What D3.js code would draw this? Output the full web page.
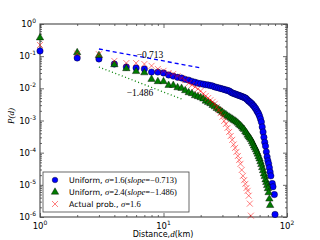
<!DOCTYPE html>
<html>
<head>
<meta charset="utf-8">
<style>
  body { margin: 0; background: #fff; }
  text { font-family: "DejaVu Sans", sans-serif; }
  .math { font-family: "Liberation Serif", serif; }
</style>
</head>
<body>
<svg id="chart" width="320" height="240"></svg>
<script src="https://cdn.jsdelivr.net/npm/d3@7"></script>
<script>
// P(d): [distance km, probability]
const uniform16 = [
  [1,0.145],[2,0.088],[3,0.082],[4,0.057],[5,0.046],[6,0.043],[7,0.040],[8,0.032],[9,0.032],[10,0.030],
  [11,0.026],[12,0.024],[13,0.022],[14,0.021],[15,0.019],[16,0.018],[17,0.0165],[18,0.0155],[19,0.0145],[20,0.014],
  [21,0.0135],[22,0.013],[23,0.0127],[24,0.0122],[25,0.0118],[26,0.0111],[27,0.0107],[28,0.0103],[29,0.0099],[30,0.0096],
  [31,0.0092],[32,0.0089],[33,0.0086],[34,0.0083],[35,0.0077],[36,0.0072],[37,0.0069],[38,0.0067],[39,0.0064],[40,0.0062],
  [41,0.006],[42,0.0058],[43,0.0056],[44,0.0054],[45,0.0052],[46,0.005],[47,0.0047],[48,0.0043],[49,0.004],[50,0.0038],
  [51,0.0035],[52,0.0033],[53,0.003],[54,0.0028],[55,0.0025],[56,0.0023],[57,0.002],[58,0.0018],[59,0.0016],[60,0.00136],
  [61,0.00112],[62,0.0009],[63,0.00063],[64,0.00044],[65,0.0003],[66,0.00021],[67,0.00016],[68,0.000106],[69,7.4e-5],[70,5.6e-5],
  [71,4.5e-5],[72,3.4e-5],[73,2.5e-5],[74,1.9e-5],[76,1.1e-5],[77,8.7e-6],[79,5e-6],[80,1.2e-6]
]
const uniform24 = [
  [1,0.39],[2,0.135],[3,0.11],[4,0.057],[5,0.043],[6,0.035],[7,0.032],[8,0.02],[9,0.017],[10,0.017],
  [11,0.013],[12,0.013],[13,0.011],[14,0.0105],[15,0.0089],[16,0.0077],[17,0.0072],[18,0.0062],[19,0.0058],[20,0.0054],
  [21,0.0049],[22,0.0042],[23,0.0038],[24,0.0035],[25,0.0031],[26,0.0028],[27,0.0025],[28,0.0023],[29,0.0021],[30,0.0019],
  [31,0.0017],[32,0.0016],[33,0.00144],[34,0.00134],[35,0.00125],[36,0.00116],[37,0.00108],[38,0.00101],[39,0.00094],[40,0.00087],
  [41,0.00078],[42,0.00073],[43,0.00066],[44,0.00059],[45,0.00055],[46,0.00047],[47,0.00043],[48,0.00037],[49,0.00033],[50,0.0003],
  [51,0.00027],[52,0.00023],[53,0.0002],[54,0.00017],[55,0.00015],[56,0.00013],[57,0.00011],[58,9.5e-5],[59,7.9e-5],[60,6.7e-5],
  [61,5.5e-5],[62,4.5e-5],[63,3.6e-5],[64,2.9e-5],[65,2.3e-5],[66,1.9e-5],[67,1.5e-5],[68,1.24e-5],[69,1e-5],[70,8e-6],
  [71,6e-6],[72,3.8e-6],[73,2.4e-6]
]
const actual16 = [
  [1,0.222],[2,0.12],[3,0.115],[4,0.071],[5,0.061],[6,0.061],[7,0.057],[8,0.05],[9,0.04],[10,0.035],
  [11,0.030],[12,0.028],[13,0.024],[14,0.021],[15,0.018],[16,0.0145],[17,0.0127],[18,0.011],[19,0.0096],[20,0.0083],
  [21,0.0067],[22,0.0058],[23,0.005],[24,0.0043],[25,0.0038],[26,0.0033],[27,0.0026],[28,0.0021],[29,0.0017],[30,0.0013],
  [31,0.00097],[32,0.00078],[33,0.00059],[34,0.00044],[35,0.00033],[36,0.00025],[37,0.00018],[38,0.000141],[39,0.000106],[40,7.9e-5],
  [41,5.9e-5],[42,4.5e-5],[43,2.9e-5],[44,1.9e-5],[45,1.4e-5],[46,1.07e-5],[47,8e-6],[48,6.5e-6],[49,4.6e-6],[50,2.6e-6],
  [51,1.1e-6]
]
// fitted slope lines (end points)
const fit16 = [[3,0.167],[20,0.0433]]
const fit24 = [[3,0.046],[14,0.00466]]

const xMajor = [1,10,100]
const yMajor = [1e-6,1e-5,1e-4,1e-3,1e-2,1e-1,1]
const xExp = ["0","1","2"]
const yExp = ["-6","-5","-4","-3","-2","-1","0"]

let svg = d3.select("#chart")
let pLeft = 40, pRight = 287, pTop = 24, pBottom = 217

let x = d3.scaleLog().domain([1,100]).range([pLeft,pRight])
let y = d3.scaleLog().domain([1e-6,1]).range([pBottom,pTop])

let minorX = [], minorY = []
for (let e = 1; e < 100; e *= 10) for (let k = 2; k < 10; k++) minorX.push(k*e)
for (let e = 1e-6; e < 1; e *= 10) for (let k = 2; k < 10; k++) minorY.push(k*e)

// plot frame
svg.append("rect")
  .attr("x", pLeft).attr("y", pTop)
  .attr("width", pRight-pLeft).attr("height", pBottom-pTop)
  .attr("fill", "none").attr("stroke", "#555").attr("stroke-width", 1.2)

// inward ticks on all four sides
function ticks(axisFn, vals, size, tr) {
  let g = svg.append("g").attr("transform", tr)
    .call(axisFn.tickValues(vals).tickSize(-size).tickFormat(""))
  g.select(".domain").remove()
  g.selectAll("line").attr("stroke", "#444").attr("stroke-width", 0.8)
}
ticks(d3.axisBottom(x), xMajor, 4, `translate(0,${pBottom})`)
ticks(d3.axisBottom(x), minorX, 2, `translate(0,${pBottom})`)
ticks(d3.axisTop(x), xMajor, 4, `translate(0,${pTop})`)
ticks(d3.axisTop(x), minorX, 2, `translate(0,${pTop})`)
ticks(d3.axisLeft(y), yMajor, 4, `translate(${pLeft},0)`)
ticks(d3.axisLeft(y), minorY, 2, `translate(${pLeft},0)`)
ticks(d3.axisRight(y), yMajor, 4, `translate(${pRight},0)`)
ticks(d3.axisRight(y), minorY, 2, `translate(${pRight},0)`)

// tick labels 10^n
xMajor.forEach((v, i) => {
  let t = svg.append("text").attr("x", x(v)).attr("y", pBottom+12)
    .attr("text-anchor", "middle").attr("font-size", 8.5).attr("fill", "#000")
  t.append("tspan").text("10")
  t.append("tspan").attr("dy", -4).attr("font-size", 6).text(xExp[i])
})
yMajor.forEach((v, i) => {
  let t = svg.append("text").attr("x", pLeft-4).attr("y", y(v)+3)
    .attr("text-anchor", "end").attr("font-size", 8.5).attr("fill", "#000")
  t.append("tspan").text("10")
  t.append("tspan").attr("dy", -4).attr("font-size", 6).text(yExp[i])
})

// axis labels
let xl = svg.append("text").attr("x", 163).attr("y", 237)
  .attr("text-anchor", "middle").attr("font-size", 8)
xl.append("tspan").text("Distance,")
xl.append("tspan").attr("class", "math").attr("font-style", "italic").attr("font-size", 9).text("d")
xl.append("tspan").text("(km)")

svg.append("text").attr("class", "math")
  .attr("transform", "translate(14,116) rotate(-90)")
  .attr("text-anchor", "middle").attr("font-size", 9).attr("font-style", "italic")
  .text("P(d)")

let plot = svg.append("g")

// fit lines
let line = d3.line().x(d => x(d[0])).y(d => y(d[1]))
plot.append("path").attr("d", line(fit16))
  .attr("fill", "none").attr("stroke", "#0000ff").attr("stroke-width", 1.3).attr("stroke-dasharray", "4,3")
plot.append("path").attr("d", line(fit24))
  .attr("fill", "none").attr("stroke", "#008000").attr("stroke-width", 1.3).attr("stroke-dasharray", "1,2.5")

svg.append("text").attr("class", "math").attr("x", 150).attr("y", 58)
  .attr("text-anchor", "middle").attr("font-size", 9.5).text("\u22120.713")
svg.append("text").attr("class", "math").attr("x", 140).attr("y", 96)
  .attr("text-anchor", "middle").attr("font-size", 9.5).text("\u22121.486")

// markers
let tri = d3.symbol().type(d3.symbolTriangle).size(24)

function drawCircles(g, data, r) {
  g.selectAll(null).data(data).enter().append("circle")
    .attr("cx", d => x(d[0])).attr("cy", d => y(d[1])).attr("r", r)
    .attr("fill", "#0000ff").attr("stroke", "#000").attr("stroke-width", 0.4)
}
function drawTriangles(g, data) {
  g.selectAll(null).data(data).enter().append("path")
    .attr("d", tri).attr("transform", d => `translate(${x(d[0])},${y(d[1])+0.6})`)
    .attr("fill", "#007a00").attr("stroke", "#000").attr("stroke-width", 0.4)
}
function drawCrosses(g, data) {
  g.selectAll(null).data(data).enter().append("path")
    .attr("d", "M-3,-3L3,3M-3,3L3,-3")
    .attr("transform", d => `translate(${x(d[0])},${y(d[1])})`)
    .attr("fill", "none").attr("stroke", "#ff0000").attr("stroke-opacity", 0.5).attr("stroke-width", 1)
}
drawCircles(plot.append("g"), uniform16, 3.2)
drawTriangles(plot.append("g"), uniform24)
drawCrosses(plot.append("g"), actual16)

// legend
let lg = svg.append("g")
lg.append("rect").attr("x", 43).attr("y", 172).attr("width", 146).attr("height", 40)
  .attr("fill", "#fff").attr("stroke", "#444").attr("stroke-width", 0.8)
let rows = [180, 191.5, 204]
let keyAt = r => [[x.invert(55), y.invert(r)]]
drawCircles(lg.append("g"), keyAt(rows[0]), 2.8)
drawTriangles(lg.append("g"), keyAt(rows[1]))
drawCrosses(lg.append("g"), keyAt(rows[2]))

const legendText = [
  ["Uniform, ", "\u03c3", "=1.6(", "slope", "=\u22120.713)"],
  ["Uniform, ", "\u03c3", "=2.4(", "slope", "=\u22121.486)"],
  ["Actual prob., ", "\u03c3", "=1.6", "", ""]
]
legendText.forEach((parts, i) => {
  let t = lg.append("text").attr("x", 69).attr("y", rows[i]+3).attr("font-size", 7.8)
  t.append("tspan").text(parts[0])
  t.append("tspan").attr("class", "math").attr("font-style", "italic").attr("font-size", 8.5).text(parts[1])
  t.append("tspan").attr("class", "math").attr("font-size", 8.5).text(parts[2])
  if (parts[3]) {
    t.append("tspan").attr("class", "math").attr("font-style", "italic").attr("font-size", 8.5).text(parts[3])
    t.append("tspan").attr("class", "math").attr("font-size", 8.5).text(parts[4])
  }
})
</script>
</body>
</html>
